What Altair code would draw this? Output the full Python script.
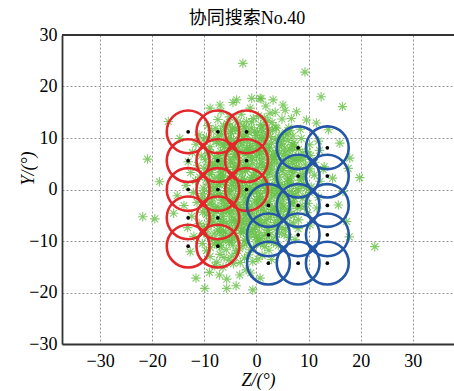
import altair as alt
import pandas as pd

# ---------------- data ----------------
title_text = "协同搜索No.40"
x_ticks = [-30, -20, -10, 0, 10, 20, 30]
y_ticks = [-30, -20, -10, 0, 10, 20, 30]

red_z = [-13.1, -7.4, -1.9, -13.1, -7.4, -1.9, -13.1, -7.4, -1.9, -13.1, -7.4, -13.1, -7.4]
red_y = [11.2, 11.2, 11.2, 5.6, 5.6, 5.6, 0.0, 0.0, 0.0, -5.5, -5.5, -11.0, -11.0]

blue_z = [8.0, 13.6, 8.0, 13.6, 2.3, 8.0, 13.6, 2.3, 8.0, 13.6, 2.3, 8.0, 13.6]
blue_y = [8.1, 8.1, 2.6, 2.6, -3.1, -3.1, -3.1, -8.8, -8.8, -8.8, -14.3, -14.3, -14.3]

green_outer = [
    (-2.6, 24.5), (9.3, 22.8), (12.4, 18.0), (16.5, 16.1), (-16.9, 13.2),
    (-6.8, 15.2), (-4.5, 16.9), (-2.9, 14.6), (-1.2, 15.8), (0.4, 14.3), (1.8, 16.2),
    (3.6, 15.0), (-5.2, 14.1), (0.9, 17.6), (3.2, 17.4), (5.1, 16.4), (5.5, 15.4),
    (2.6, 14.8), (7.7, 15.1), (-7.0, 16.4), (-3.8, 17.4), (-0.9, 17.7), (-8.9, 15.8),
    (0.7, 17.7),
    (-9.3, 12.4), (-7.4, 13.6), (-5.6, 12.8), (-3.9, 13.5), (-2.4, 12.2), (-1.9, 13.2),
    (-0.6, 13.8), (0.8, 12.6), (2.2, 13.3), (3.7, 12.1), (4.9, 13.7), (6.7, 13.8),
    (9.6, 13.5), (11.5, 12.9), (-4.6, 12.0), (1.5, 13.9), (-6.3, 12.3),
    (-11.0, 10.6), (-8.6, 11.4), (-7.3, 10.2), (-6.1, 11.7), (-4.8, 10.9), (-3.5, 11.6),
    (-2.6, 10.3), (-1.5, 11.1), (-0.2, 10.5), (0.9, 11.8), (2.0, 10.8), (3.1, 11.5),
    (4.3, 10.2), (5.6, 11.0), (7.0, 10.4), (8.4, 11.7), (13.8, 11.6), (-9.6, 10.1),
    (-1.0, 12.0), (1.6, 10.1), (6.2, 12.0), (-5.4, 10.0),
    (-14.7, 9.9), (-11.6, 8.8), (-10.2, 9.6), (-8.9, 8.3), (-7.7, 9.3), (-6.4, 8.7),
    (-5.3, 9.8), (-4.2, 8.4), (-3.0, 9.2), (-1.9, 8.1), (-0.8, 9.6), (0.3, 8.6),
    (1.3, 9.4), (2.5, 8.2), (3.6, 9.7), (4.8, 8.8), (6.1, 9.5), (7.3, 8.4), (8.6, 9.9),
    (10.2, 8.7), (16.0, 9.0), (-3.6, 8.0), (0.9, 10.0), (5.4, 8.1), (-2.4, 9.9), (11.9, 9.4),
    (-12.3, 7.2), (-10.6, 6.5), (-9.1, 7.7), (-8.0, 6.3), (-6.9, 7.4), (-5.8, 6.8),
    (-4.7, 7.9), (-3.7, 6.2), (-2.6, 7.3), (-1.6, 6.6), (-0.5, 7.8), (0.6, 6.9),
    (1.7, 7.5), (2.9, 6.4), (4.0, 7.6), (5.2, 6.7), (6.4, 7.9), (7.6, 6.2), (8.9, 7.1),
    (10.4, 6.6), (12.1, 7.6), (-4.1, 6.9), (-1.1, 7.0), (2.3, 7.9), (-7.4, 6.0), (3.5, 6.1),
    (-13.1, 5.4), (-11.3, 4.7), (-9.8, 5.8), (-8.5, 4.3), (-7.5, 5.5), (-6.3, 4.9),
    (-5.1, 5.9), (-4.1, 4.4), (-3.2, 5.3), (-2.1, 4.8), (-1.0, 5.7), (0.1, 4.2),
    (1.1, 5.1), (2.3, 4.6), (3.4, 5.8), (4.6, 4.5), (5.7, 5.4), (6.9, 4.1), (8.1, 5.6),
    (9.4, 4.8), (11.2, 5.3), (13.0, 4.4), (-20.9, 5.9), (-2.7, 4.1), (0.6, 5.9),
    (3.0, 4.0), (7.4, 5.9), (-6.9, 4.0), (17.9, 6.1),
    (-12.6, 3.3), (-10.9, 2.4), (-9.3, 3.6), (-8.1, 2.2), (-7.0, 3.0), (-5.9, 3.8),
    (-4.8, 2.5), (-3.8, 3.4), (-2.7, 2.1), (-1.7, 3.9), (-0.6, 2.7), (0.4, 3.5),
    (1.5, 2.3), (2.6, 3.2), (3.7, 2.6), (4.9, 3.7), (6.0, 2.1), (7.2, 3.3), (8.4, 2.5),
    (9.7, 3.6), (11.1, 2.8), (12.8, 3.9), (14.6, 2.2), (17.6, 4.1), (19.8, 2.3),
    (-4.3, 3.9), (-1.2, 2.0), (2.0, 3.8), (5.5, 2.9), (-6.5, 2.4),
    (-18.6, 1.5), (-13.5, 0.8), (-11.7, 1.7), (-10.2, 0.3), (-8.8, 1.2), (-7.7, 0.6),
    (-6.6, 1.8), (-5.5, 0.2), (-4.4, 1.3), (-3.4, 0.7), (-2.3, 1.9), (-1.3, 0.4),
    (-0.2, 1.5), (0.9, 0.9), (2.0, 1.8), (3.1, 0.3), (4.2, 1.4), (5.4, 0.6), (6.6, 1.7),
    (7.8, 0.2), (9.1, 1.1), (10.5, 0.5), (12.2, 1.6), (-3.9, 1.6), (-0.7, 0.1),
    (1.4, 1.9), (3.7, 0.8), (-7.1, 1.0), (16.6, -0.4),
    (-15.2, -1.2), (-12.1, -0.6), (-10.6, -1.7), (-9.2, -0.4), (-8.1, -1.4), (-6.9, -0.8),
    (-5.8, -1.9), (-4.7, -0.3), (-3.7, -1.5), (-2.6, -0.9), (-1.6, -1.8), (-0.5, -0.5),
    (0.6, -1.3), (1.7, -0.2), (2.8, -1.6), (3.9, -0.7), (5.1, -1.9), (6.3, -0.4),
    (7.5, -1.1), (8.8, -1.8), (10.2, -0.6), (11.9, -1.5), (-2.1, -0.2), (0.1, -1.9), (4.5, -1.2),
    (-13.9, -3.1), (-11.4, -2.5), (-9.9, -3.6), (-8.6, -2.2), (-7.4, -3.3), (-6.2, -2.7),
    (-5.1, -3.9), (-4.0, -2.4), (-3.0, -3.5), (-1.9, -2.1), (-0.9, -3.2), (0.2, -2.6),
    (1.3, -3.8), (2.4, -2.3), (3.5, -3.4), (4.7, -2.8), (5.9, -3.9), (7.1, -2.4),
    (8.4, -3.3), (9.9, -2.7), (11.6, -3.6), (15.7, -3.0), (-2.5, -3.9), (0.8, -2.0), (-6.8, -3.9),
    (-21.8, -5.3), (-19.5, -5.7), (-15.9, -4.6), (-12.4, -5.2), (-10.3, -4.4), (-8.9, -5.6),
    (-7.6, -4.2), (-6.4, -5.3), (-5.2, -4.7), (-4.1, -5.8), (-3.1, -4.3), (-2.0, -5.1),
    (-0.9, -4.6), (0.3, -5.7), (1.5, -4.4), (2.7, -5.4), (3.9, -4.1), (5.2, -5.2),
    (6.6, -4.8), (8.1, -5.9), (9.8, -4.5), (17.3, -6.2), (-1.4, -5.9), (4.4, -5.9),
    (-13.2, -7.4), (-11.0, -6.6), (-9.5, -7.7), (-8.1, -6.3), (-6.9, -7.2), (-5.7, -6.5),
    (-4.6, -7.8), (-3.5, -6.9), (-2.4, -7.5), (-1.3, -6.2), (-0.2, -7.3), (1.0, -6.7),
    (2.2, -7.9), (3.5, -6.4), (4.9, -7.4), (6.4, -6.8), (8.0, -7.6), (10.3, -6.9),
    (-3.0, -6.1), (0.4, -6.0),
    (-12.0, -9.1), (-10.1, -8.4), (-8.5, -9.6), (-7.1, -8.2), (-5.9, -9.3), (-4.8, -8.6),
    (-3.6, -9.8), (-2.5, -8.3), (-1.4, -9.1), (-0.3, -8.7), (0.9, -9.5), (2.2, -8.4),
    (3.6, -9.2), (5.3, -8.8), (7.4, -9.7), (17.8, -9.2), (-6.3, -8.0),
    (-12.7, -12.1), (-10.4, -10.5), (-8.8, -11.3), (-7.2, -10.2), (-5.8, -11.7),
    (-4.5, -10.8), (-3.2, -11.5), (-1.9, -10.4), (-0.6, -11.2), (0.8, -10.6),
    (2.4, -11.8), (4.2, -10.9), (22.7, -11.1), (-6.4, -10.0),
    (-8.9, -13.0), (-7.0, -12.6), (-5.3, -13.7), (-3.8, -12.4), (-2.3, -13.3),
    (-0.7, -14.0), (1.1, -12.8), (-4.4, -14.4), (2.9, -13.6),
    (-11.6, -17.2), (-9.0, -16.1), (-7.1, -16.6), (-9.9, -19.2), (-5.7, -17.4),
    (-3.9, -18.7), (-3.2, -16.6), (-5.7, -19.2), (-0.7, -19.5), (0.7, -17.2),
    (-6.4, -15.1), (-2.0, -15.6), (-8.0, -14.8), (-1.1, -16.2),
]

green_core = [
    (-7.8, 11.9), (-6.7, 10.6), (-5.9, 9.1), (-5.0, 11.3), (-4.4, 9.6), (-3.3, 10.8),
    (-2.2, 11.8), (-1.7, 9.4), (-0.4, 11.4), (0.5, 9.9), (1.2, 11.2), (2.7, 10.3),
    (3.9, 11.9), (4.6, 9.3), (5.9, 10.7), (7.2, 9.1), (-8.2, 9.9), (-6.1, 8.2),
    (-4.9, 8.9), (-3.9, 7.6), (-2.8, 8.6), (-1.3, 7.9), (-0.1, 8.9), (1.0, 7.3),
    (1.9, 8.8), (3.2, 7.1), (4.3, 8.4), (5.6, 7.3), (6.8, 8.7), (8.1, 7.8),
    (-9.4, 6.9), (-8.4, 5.2), (-7.1, 6.6), (-6.6, 5.7), (-5.4, 7.4), (-4.5, 5.1),
    (-3.5, 6.7), (-2.4, 5.6), (-1.9, 7.7), (-0.8, 6.2), (0.3, 7.4), (1.4, 6.1),
    (2.5, 5.3), (3.7, 6.9), (4.9, 5.8), (6.1, 6.5), (7.0, 5.1), (8.5, 6.2), (9.8, 7.3),
    (-10.1, 4.1), (-9.0, 2.9), (-7.9, 4.6), (-6.8, 3.4), (-5.6, 4.3), (-4.6, 3.1),
    (-3.6, 4.7), (-2.9, 3.0), (-1.5, 4.5), (-0.4, 3.3), (0.7, 4.8), (1.8, 3.9),
    (2.9, 4.9), (4.0, 3.4), (5.2, 4.1), (6.4, 3.7), (7.7, 4.4), (8.9, 3.1), (10.3, 4.0),
    (-9.7, 1.9), (-8.3, 0.1), (-7.3, 2.1), (-6.1, 0.9), (-5.0, 1.9), (-4.0, 0.3),
    (-3.0, 1.2), (-1.9, 0.8), (-0.9, 2.3), (0.3, 0.5), (1.3, 1.2), (2.4, 0.7),
    (3.5, 2.0), (4.7, 1.0), (5.9, 1.5), (7.1, 0.8), (8.3, 1.8), (9.6, 0.3),
    (-10.4, -0.8), (-8.6, -1.0), (-7.5, -0.2), (-6.4, -1.5), (-5.2, -0.9), (-4.2, -1.8),
    (-3.2, -0.4), (-2.1, -1.4), (-1.0, -0.8), (0.1, -0.3), (1.2, -1.7), (2.3, -0.6),
    (3.4, -1.1), (4.5, -0.2), (5.7, -1.3), (6.9, -0.7), (8.1, -0.3), (9.4, -1.2),
    (-9.1, -2.9), (-7.9, -3.8), (-6.7, -2.1), (-5.6, -3.1), (-4.5, -2.0), (-3.5, -2.9),
    (-2.4, -2.5), (-1.4, -3.6), (-0.3, -2.2), (0.9, -3.0), (1.9, -2.8), (3.0, -3.9),
    (4.1, -2.2), (5.3, -3.2), (6.5, -2.6), (7.8, -3.7), (9.2, -3.4),
    (-9.6, -4.9), (-8.2, -5.1), (-7.0, -5.8), (-5.8, -4.2), (-4.7, -5.2), (-3.6, -4.8),
    (-2.5, -5.6), (-1.5, -4.4), (-0.4, -5.3), (0.8, -4.9), (2.0, -5.8), (3.3, -4.7),
    (4.6, -4.3), (5.9, -5.5), (7.3, -5.0),
    (-10.2, -7.2), (-8.7, -6.8), (-7.5, -7.9), (-6.3, -6.2), (-5.1, -7.1), (-4.0, -6.4),
    (-2.9, -7.9), (-1.8, -6.8), (-0.7, -7.7), (0.5, -7.0), (1.6, -6.3), (2.8, -7.2),
    (4.2, -6.7), (5.6, -7.8), (7.1, -6.5),
    (-9.3, -9.0), (-7.8, -9.9), (-6.6, -8.9), (-5.3, -9.9), (-4.2, -9.1), (-3.0, -8.5),
    (-1.9, -9.6), (-0.9, -8.2), (0.3, -9.8), (1.5, -8.9), (2.9, -9.9), (4.4, -8.5),
    (6.2, -9.3),
    (-9.6, -11.9), (-8.0, -10.6), (-6.8, -11.2), (-5.2, -10.3), (-3.9, -11.9),
    (-2.6, -10.9), (-1.2, -11.7), (0.1, -10.2), (1.6, -11.1), (3.3, -10.4),
    (-6.2, -13.2), (-4.7, -12.9), (-3.1, -14.2), (-1.5, -12.7), (0.3, -13.5), (-7.6, -14.1),
]

green_dense = [
    (-5.5, 12.6), (-3.1, 12.9), (-0.9, 13.1), (1.3, 12.4), (3.0, 13.0), (-6.9, 11.2),
    (-4.1, 11.9), (-2.0, 10.7), (0.2, 11.1), (2.4, 11.7), (4.9, 10.6), (6.5, 11.4),
    (-7.2, 8.9), (-5.1, 8.1), (-3.4, 9.5), (-1.1, 8.5), (0.8, 8.2), (2.9, 9.0),
    (5.2, 9.8), (6.9, 7.6), (-8.8, 7.0), (-6.2, 7.1), (-4.3, 6.4), (-2.2, 6.9),
    (0.0, 6.5), (2.1, 6.8), (4.4, 7.0), (6.7, 6.0), (9.1, 5.9), (-9.2, 4.8),
    (-7.0, 4.9), (-5.0, 5.3), (-3.0, 4.0), (-0.7, 5.0), (1.6, 4.3), (3.9, 5.1),
    (6.2, 4.8), (8.3, 4.2), (-8.6, 3.3), (-6.3, 2.7), (-4.2, 2.3), (-2.1, 3.5),
    (0.1, 2.4), (2.2, 2.9), (4.4, 2.4), (6.7, 2.6), (9.0, 2.2), (-9.0, 0.9),
    (-6.9, 1.5), (-4.8, 0.8), (-2.7, 0.4), (-0.5, 1.1), (1.8, 0.2), (4.0, 0.2),
    (6.3, 1.1), (8.7, 0.7), (-9.9, -1.9), (-7.2, -1.2), (-5.5, -0.4), (-3.5, -1.2),
    (-1.4, -0.3), (0.8, -0.8), (2.9, -0.3), (5.0, -0.8), (7.3, -1.7), (-8.4, -3.0),
    (-6.0, -3.6), (-3.9, -3.2), (-1.9, -2.9), (0.4, -3.4), (2.6, -3.2), (4.9, -3.6),
    (7.0, -3.0), (-8.8, -4.4), (-6.6, -4.6), (-4.4, -4.1), (-2.2, -4.5), (0.0, -4.1),
    (2.3, -4.6), (4.1, -5.4), (6.2, -4.2), (-9.0, -6.3), (-6.8, -6.6), (-4.8, -6.1),
    (-2.6, -6.6), (-0.3, -6.4), (1.9, -7.3), (3.8, -7.7), (-8.1, -8.6), (-5.9, -8.3),
    (-3.8, -7.5), (-1.6, -8.2), (0.6, -8.3), (2.5, -8.8), (-7.1, -10.9), (-4.6, -9.6),
    (-2.2, -9.9), (-0.1, -9.3), (1.9, -10.0),
]

# ---------------- tables ----------------
green_df = pd.DataFrame(green_outer + green_core + green_dense, columns=["z", "y"])
red_df = pd.DataFrame({"z": red_z, "y": red_y})
blue_df = pd.DataFrame({"z": blue_z, "y": blue_y})
centers_df = pd.concat([red_df, blue_df], ignore_index=True)
title_df = pd.DataFrame({"t": [title_text]})

SERIF = "Liberation Serif, Noto Sans CJK SC, serif"
x_dom = [-37.3, 37.9]
y_dom = [-30, 30]

axis_style = dict(
    grid=True, ticks=False, tickSize=0,
    labelFont=SERIF, labelFontSize=18, labelColor="black",
    titleFont=SERIF, titleFontSize=18, titleFontWeight="normal",
    titleFontStyle="italic", titleColor="black",
    domainColor="#333333", domainWidth=1.8,
    gridColor="#888888", gridDash=[2, 2], gridWidth=0.9,
)

x_enc = alt.X(
    "z:Q",
    scale=alt.Scale(domain=x_dom, nice=False, zero=False),
    axis=alt.Axis(
        values=x_ticks, title="Z/(°)", labelPadding=8,
        titleBaseline="alphabetic", titleY=41, **axis_style,
    ),
)
y_enc = alt.Y(
    "y:Q",
    scale=alt.Scale(domain=y_dom, nice=False, zero=False),
    axis=alt.Axis(
        values=y_ticks, title="Y/(°)", labelPadding=5,
        titleBaseline="alphabetic", titleAlign="center",
        titleAngle=270, titleX=-29, titleY=133, **axis_style,
    ),
)

ASTERISK = "M-1,0L1,0M0,-1L0,1M-0.72,-0.72L0.72,0.72M-0.72,0.72L0.72,-0.72"

green = alt.Chart(green_df).mark_point(
    shape=ASTERISK, filled=False, color="#66c046", strokeWidth=1.1,
    size=90, opacity=0.8,
).encode(x=x_enc, y=y_enc)

red = alt.Chart(red_df).mark_point(
    shape="circle", filled=False, color="#e3262a", strokeWidth=2.6,
    size=1830, opacity=1,
).encode(x=x_enc, y=y_enc)

blue = alt.Chart(blue_df).mark_point(
    shape="circle", filled=False, color="#2456a6", strokeWidth=2.6,
    size=1830, opacity=1,
).encode(x=x_enc, y=y_enc)

dots = alt.Chart(centers_df).mark_circle(
    color="black", size=14, opacity=1,
).encode(x=x_enc, y=y_enc)

top_line = alt.Chart(pd.DataFrame({"y": [30]})).mark_rule(
    color="#333333", strokeWidth=1.8,
).encode(y=y_enc)

title = alt.Chart(title_df).mark_text(
    font=SERIF, fontSize=18, color="black", align="center", baseline="alphabetic",
).encode(text="t:N", x=alt.value(185), y=alt.value(-11))

chart = alt.layer(green, red, blue, dots, top_line, title).properties(
    width=392,
    height=309,
    padding={"left": 62, "top": 35, "right": 0, "bottom": 47},
    autosize=alt.AutoSizeParams(type="none"),
    background="white",
).configure_view(stroke=None)

chart.save("out.html", embed_options={"renderer": "svg", "actions": False})
